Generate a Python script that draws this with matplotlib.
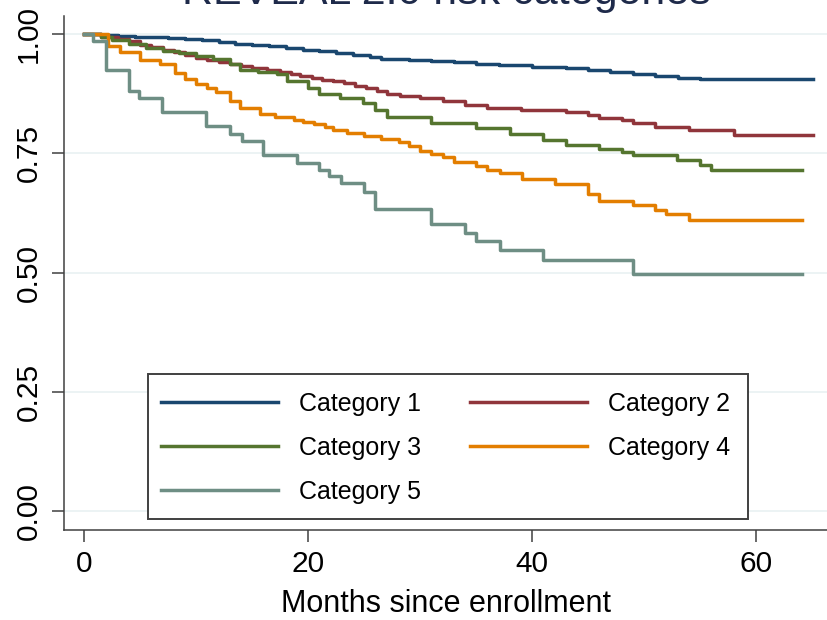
import matplotlib
matplotlib.use("Agg")
import matplotlib.pyplot as plt
from matplotlib.patches import Rectangle

plt.rcParams['font.family'] = ['Liberation Sans', 'DejaVu Sans']

# Kaplan-Meier step estimates by risk category (months, survival)
cat1_t = [0, 1.5, 3, 4.5, 6, 7.5, 9, 10.5, 12, 13.5, 15, 16.5, 18, 19.5, 21, 22.5, 24,
          25.5, 26.5, 29, 31, 33, 35, 37, 40, 43, 45, 47, 49, 51, 53, 55, 65.1]
cat1_s = [1.0, 0.998, 0.997, 0.995, 0.994, 0.992, 0.990, 0.987, 0.984, 0.980, 0.977,
          0.975, 0.972, 0.968, 0.965, 0.961, 0.957, 0.952, 0.948, 0.947, 0.945, 0.941,
          0.937, 0.935, 0.932, 0.930, 0.926, 0.921, 0.917, 0.913, 0.909, 0.906, 0.906]

cat2_t = [0, 1.5, 3, 4, 5, 6, 7, 8, 9, 10, 11, 12, 13, 14, 15, 16.3, 17.5, 18.5, 19.3,
          20.3, 21.2, 22.2, 23.2, 24.2, 25.2, 26.1, 27, 28.2, 30, 32, 34, 36, 39, 43, 45,
          46, 48, 49, 51, 54, 58, 65.1]
cat2_s = [1.0, 0.995, 0.990, 0.985, 0.978, 0.973, 0.968, 0.962, 0.956, 0.950, 0.946,
          0.941, 0.937, 0.933, 0.930, 0.926, 0.921, 0.917, 0.912, 0.908, 0.905, 0.901,
          0.897, 0.892, 0.887, 0.881, 0.875, 0.871, 0.866, 0.860, 0.851, 0.846, 0.841,
          0.837, 0.830, 0.825, 0.820, 0.813, 0.806, 0.799, 0.788, 0.788]

cat3_t = [0, 1.5, 2.5, 4, 5.5, 7, 8.5, 10, 11.5, 13.0, 13.9, 15.5, 17.2, 18.1, 20, 21,
          22.8, 24.9, 26, 27, 31, 35, 38, 41, 43, 46, 48, 49, 52.9, 55, 56, 64.1]
cat3_s = [1.0, 0.994, 0.987, 0.980, 0.972, 0.965, 0.960, 0.954, 0.948, 0.937, 0.926,
          0.921, 0.916, 0.902, 0.887, 0.875, 0.866, 0.856, 0.841, 0.827, 0.814, 0.804,
          0.790, 0.778, 0.767, 0.760, 0.753, 0.746, 0.736, 0.725, 0.716, 0.716]

cat4_t = [0, 2.1, 3.2, 5.0, 6.8, 8.1, 9.0, 10.0, 11.0, 11.8, 13.0, 13.9, 15.7, 17, 18.7,
          19.5, 20.5, 21.5, 22.2, 23.5, 25, 26.5, 28.1, 29, 30, 31, 32, 33, 35, 36, 37.1,
          39.1, 42, 45, 46, 49, 51, 52, 54, 64.1]
cat4_s = [1.0, 0.975, 0.962, 0.947, 0.937, 0.919, 0.907, 0.895, 0.887, 0.879, 0.860,
          0.846, 0.833, 0.827, 0.821, 0.816, 0.811, 0.805, 0.799, 0.793, 0.786, 0.780,
          0.773, 0.766, 0.756, 0.748, 0.743, 0.731, 0.723, 0.716, 0.709, 0.697, 0.685,
          0.664, 0.650, 0.641, 0.631, 0.623, 0.611, 0.611]

cat5_t = [0, 0.8, 1.9, 4.0, 4.9, 6.9, 10.9, 13.0, 14.05, 16.0, 19.0, 21.0, 21.9, 22.9,
          25.0, 26.0, 31.0, 34.0, 35.0, 37.1, 41.0, 49.0, 64.1]
cat5_s = [1.0, 0.985, 0.925, 0.881, 0.866, 0.837, 0.807, 0.790, 0.776, 0.746, 0.730,
          0.715, 0.702, 0.687, 0.669, 0.634, 0.601, 0.583, 0.566, 0.547, 0.527, 0.496, 0.496]

labels = ['Category 1', 'Category 2', 'Category 3', 'Category 4', 'Category 5']
colors = ['#1a476f', '#90353b', '#55752f', '#e37e00', '#6e8e84']
yticks = [0.0, 0.25, 0.5, 0.75, 1.0]
ytick_labels = ['0.00', '0.25', '0.50', '0.75', '1.00']
xticks = [0, 20, 40, 60]

fig = plt.figure(figsize=(8.28, 6.2), dpi=100)
ax = fig.add_axes([0.07766, 0.14516, 0.92234, 0.82903])

for y in yticks:
    ax.axhline(y, color='#eaf2f3', lw=1.3, zorder=0)

series = [(cat1_t, cat1_s), (cat2_t, cat2_s), (cat3_t, cat3_s),
          (cat4_t, cat4_s), (cat5_t, cat5_s)]
handles = []
for (t, s), c, lab in zip(series, colors, labels):
    h, = ax.step(t, s, where='post', color=c, lw=2.5, label=lab, zorder=2)
    handles.append(h)

ax.set_xlim(-1.787, 66.43)
ax.set_ylim(-0.0403, 1.0384)
ax.set_xticks(xticks)
ax.set_yticks(yticks)
ax.set_yticklabels(ytick_labels)
for sp in ['top', 'right']:
    ax.spines[sp].set_visible(False)
for sp in ['left', 'bottom']:
    ax.spines[sp].set_color('#404040')
    ax.spines[sp].set_linewidth(1.1)
ax.tick_params(axis='both', length=8.6, width=1.1, color='#404040',
               labelsize=21.5, labelcolor='black')
ax.tick_params(axis='x', pad=6)
ax.tick_params(axis='y', pad=7, labelrotation=90)
for lbl in ax.get_yticklabels():
    lbl.set_va('center')
ax.set_xlabel('Months since enrollment', fontsize=22, labelpad=8)

fig.text(446 / 828, 1 - 4 / 620, 'REVEAL 2.0 risk categories', ha='center',
         va='baseline', fontsize=31, color='#1e2a4a')

# legend box, entries laid out row by row (1 2 / 3 4 / 5)
box = Rectangle((148 / 828, 101 / 620), 600 / 828, 145 / 620, transform=fig.transFigure,
                facecolor='white', edgecolor='#404040', lw=1.4, zorder=4, clip_on=False)
ax.add_patch(box)
order = [0, 2, 4, 1, 3]
leg = ax.legend(handles=[handles[i] for i in order], ncol=2, frameon=False, fontsize=18,
                loc='upper left', bbox_to_anchor=(161 / 828, 1 - 392 / 620),
                bbox_transform=fig.transFigure, borderpad=0, borderaxespad=0,
                handlelength=4.67, handletextpad=0.84, columnspacing=1.96,
                labelspacing=0.8)
leg.set_zorder(5)

fig.savefig('out.png', dpi=100)
